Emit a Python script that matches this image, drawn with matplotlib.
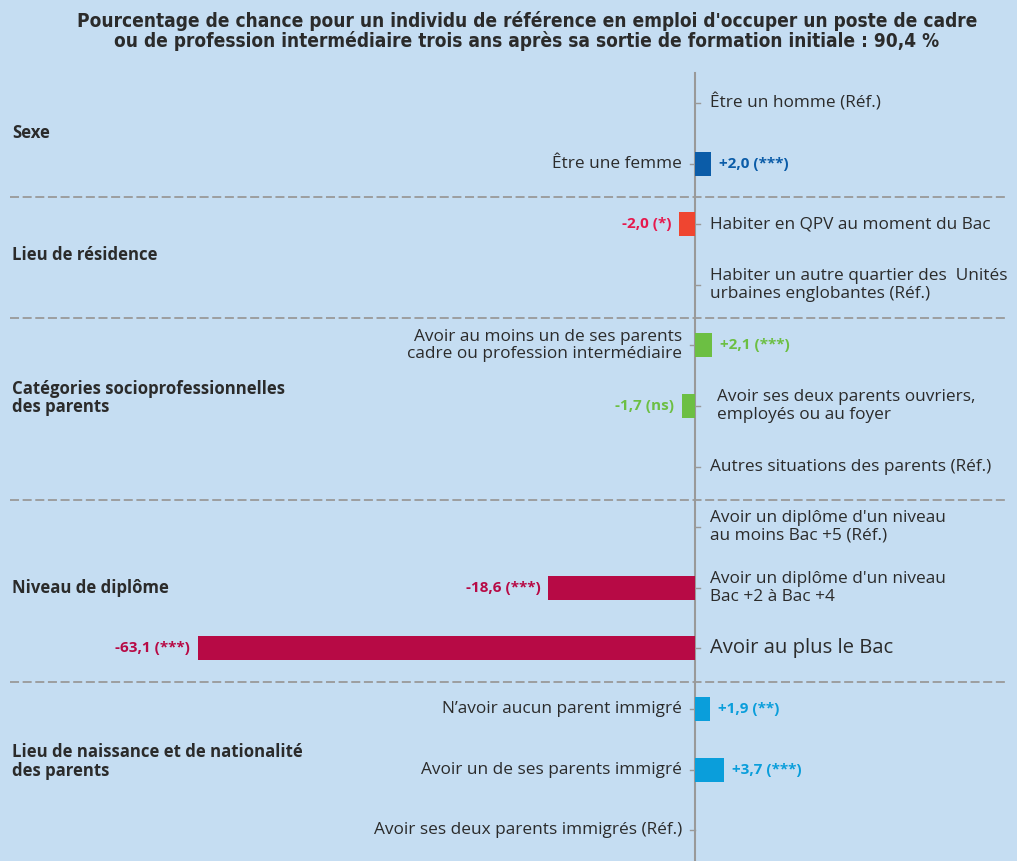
import numpy as np
import matplotlib
matplotlib.use("Agg")
import matplotlib.pyplot as plt

# --- data ---
groups = ["Sexe", "Lieu de résidence", "Catégories socioprofessionnelles\ndes parents",
          "Niveau de diplôme", "Lieu de naissance et de nationalité\ndes parents"]
group_sizes = [2, 2, 3, 3, 3]

row_labels = [
    "Être un homme (Réf.)",
    "Être une femme",
    "Habiter en QPV au moment du Bac",
    "Habiter un autre quartier des  Unités\nurbaines englobantes (Réf.)",
    "Avoir au moins un de ses parents\ncadre ou profession intermédiaire",
    "Avoir ses deux parents ouvriers,\nemployés ou au foyer",
    "Autres situations des parents (Réf.)",
    "Avoir un diplôme d'un niveau\nau moins Bac +5 (Réf.)",
    "Avoir un diplôme d'un niveau\nBac +2 à Bac +4",
    "Avoir au plus le Bac",
    "N’avoir aucun parent immigré",
    "Avoir un de ses parents immigré",
    "Avoir ses deux parents immigrés (Réf.)",
]
values = [0, 2.0, -2.0, 0, 2.1, -1.7, 0, 0, -18.6, -63.1, 1.9, 3.7, 0]
signif = ["", "***", "*", "", "***", "ns", "", "", "***", "***", "**", "***", ""]
label_side = ["r", "l", "r", "r", "l", "r", "r", "r", "r", "r", "l", "l", "l"]

bar_colors = ["#0b5ca8", "#ef4530", "#6cbf43", "#b70a45", "#0a9edb"]
value_colors = ["#0b5ca8", "#e6194d", "#6cbf43", "#b70a45", "#0a9edb"]

title = ("Pourcentage de chance pour un individu de référence en emploi d'occuper un poste de cadre\n"
         "ou de profession intermédiaire trois ans après sa sortie de formation initiale : 90,4 %")

bg = "#c5ddf2"
txt = "#2b2b2b"
grey = "#999999"

W, H = 1017, 861
fig = plt.figure(figsize=(W / 100, H / 100), dpi=100, facecolor=bg)
ax = fig.add_axes([0, 0, 1, 1])
ax.set_facecolor(bg)
ax.axis("off")

ppu = 7.88          # pixels per percentage point
x0 = 695            # pixel of zero line
ax.set_xlim(-x0 / ppu, (W - x0) / ppu)
ax.set_ylim(H, 0)

row_y = 103 + np.arange(len(values)) * 60.6
group_idx = np.repeat(np.arange(len(groups)), group_sizes)

# zero line
ax.plot([0, 0], [73, H], color=grey, lw=1.5, zorder=1)

ax.barh(row_y, values, height=24, color=[bar_colors[g] for g in group_idx], zorder=2)

fam = ["Open Sans", "DejaVu Sans"]
for i, (lab, v, s, side) in enumerate(zip(row_labels, values, signif, label_side)):
    y = row_y[i]
    g = group_idx[i]
    # petit tick
    dx = -5 / ppu if side == "l" else 5 / ppu
    ax.plot([0, dx], [y, y], color=grey, lw=1, zorder=1)
    size = 14.6 if lab == "Avoir au plus le Bac" else 12.4
    if side == "l":
        ax.annotate(lab, (0, y), xytext=(-13, 0), textcoords="offset pixels",
                    ha="right", va="center", fontsize=size, color=txt, family=fam,
                    linespacing=1.12)
    else:
        off = 22 if v < 0 and abs(v) < 3 and "\n" in lab else 15
        ax.annotate(lab, (0, y), xytext=(off, 0), textcoords="offset pixels",
                    ha="left", va="center", fontsize=size, color=txt, family=fam,
                    linespacing=1.12)
    if v != 0:
        vs = f"{v:+.1f}".replace(".", ",") + f" ({s})"
        if v > 0:
            ax.annotate(vs, (v, y), xytext=(8, 0), textcoords="offset pixels",
                        ha="left", va="center", fontsize=11, fontweight="bold",
                        color=value_colors[g], family=fam)
        else:
            ax.annotate(vs, (v, y), xytext=(-8, 0), textcoords="offset pixels",
                        ha="right", va="center", fontsize=11, fontweight="bold",
                        color=value_colors[g], family=fam)

# groupes et separateurs
start = 0
for k, (gname, n) in enumerate(zip(groups, group_sizes)):
    ys = row_y[start:start + n]
    yc = ys.mean() - (8 if "\n" in gname else 0)
    ax.text(12 / W, yc, gname, transform=ax.get_yaxis_transform(), ha="left", va="center",
            fontsize=12.1, fontweight="bold", color=txt, family=fam, linespacing=1.05)
    if k < len(groups) - 1:
        ysep = (row_y[start + n - 1] + row_y[start + n]) / 2 + 3
        ax.plot([10 / W, 1008 / W], [ysep, ysep], transform=ax.get_yaxis_transform(),
                color=grey, lw=1.3, dashes=(5, 2), zorder=1)
    start += n

fig.text(527 / W, 1 - 31 / H, title, ha="center", va="center", fontsize=13.7, fontweight="bold",
         fontstretch="condensed", color=txt, family=["DejaVu Sans"], linespacing=1.0)

fig.savefig("out.png", dpi=100, facecolor=bg)
